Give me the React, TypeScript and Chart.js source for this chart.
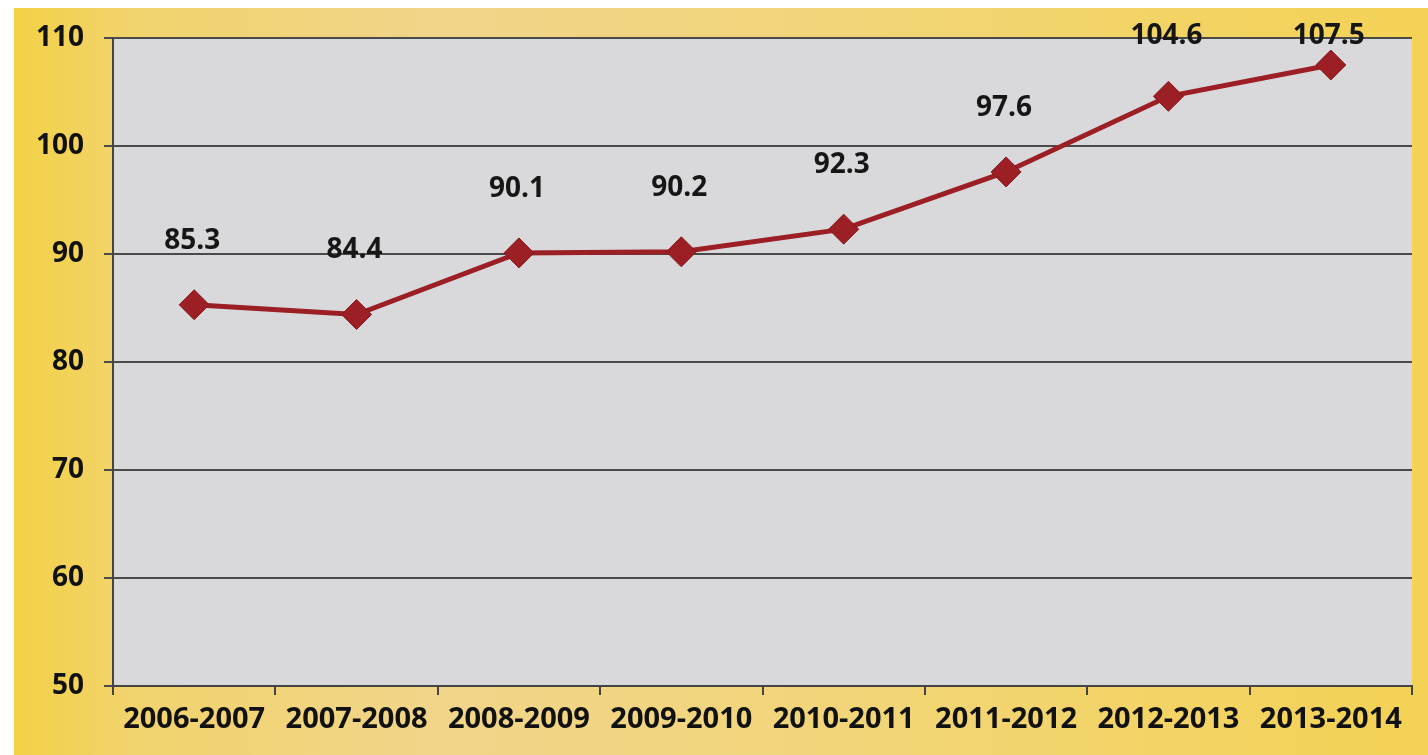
import React, { useEffect, useRef } from "react";
import { Chart, registerables } from "chart.js";

Chart.register(...registerables);

const categories = [
  "2006-2007",
  "2007-2008",
  "2008-2009",
  "2009-2010",
  "2010-2011",
  "2011-2012",
  "2012-2013",
  "2013-2014",
];
const values = [85.3, 84.4, 90.1, 90.2, 92.3, 97.6, 104.6, 107.5];
const yMin = 50;
const yMax = 110;
const yStep = 10;

const FONT = "'Open Sans', 'DejaVu Sans', sans-serif";

const backgroundPlugin = {
  id: "bgPlugin",
  beforeDraw(chart: any) {
    const { ctx, width, height, chartArea } = chart;
    ctx.save();
    ctx.fillStyle = "#ffffff";
    ctx.fillRect(0, 0, width, height);
    const g = ctx.createLinearGradient(14, 0, width, 0);
    g.addColorStop(0, "#f3d245");
    g.addColorStop(0.08, "#f2d36c");
    g.addColorStop(0.3, "#f1d58a");
    g.addColorStop(0.6, "#f2d578");
    g.addColorStop(1, "#f4d255");
    ctx.fillStyle = g;
    ctx.fillRect(14, 8, width - 14, height - 8);
    ctx.fillStyle = "#d9d9dc";
    ctx.fillRect(
      chartArea.left,
      chartArea.top,
      chartArea.right - chartArea.left,
      chartArea.bottom - chartArea.top
    );
    ctx.restore();
  },
};

const labelPlugin = {
  id: "valueLabels",
  afterDatasetsDraw(chart: any) {
    const { ctx } = chart;
    const meta = chart.getDatasetMeta(0);
    const data = chart.data.datasets[0].data as number[];
    ctx.save();
    ctx.font = `bold 28px ${FONT}`;
    ctx.fillStyle = "#161616";
    ctx.textAlign = "center";
    ctx.textBaseline = "middle";
    meta.data.forEach((pt: any, i: number) => {
      const y = Math.max(pt.y - 64, 36);
      ctx.fillText(data[i].toFixed(1), pt.x - 2, y);
    });
    ctx.restore();
  },
};

export default function App() {
  const ref = useRef<HTMLCanvasElement | null>(null);

  useEffect(() => {
    if (!ref.current) return;
    const chart = new Chart(ref.current, {
      type: "line",
      data: {
        labels: categories,
        datasets: [
          {
            data: values,
            borderColor: "#9b1f24",
            backgroundColor: "#9b1f24",
            borderWidth: 5,
            pointStyle: "rectRot",
            pointRadius: 15,
            pointBorderWidth: 1,
            pointBackgroundColor: "#9b1f24",
            pointBorderColor: "#86191e",
            tension: 0,
          },
        ],
      },
      options: {
        responsive: false,
        animation: false,
        layout: { padding: { left: 0, right: 14, top: 38, bottom: 0 } },
        plugins: {
          legend: { display: false },
          tooltip: { enabled: false },
        },
        scales: {
          x: {
            type: "category",
            offset: true,
            grid: {
              offset: true,
              drawOnChartArea: false,
              drawTicks: true,
              tickLength: 9,
              color: "#444444",
              lineWidth: 2,
            },
            border: { display: true, color: "#444444", width: 2 },
            ticks: {
              color: "#111111",
              font: { family: FONT, size: 29, weight: "bold" },
              padding: 7,
              maxRotation: 0,
              autoSkip: false,
            },
            afterFit(scale: any) {
              scale.height = 69;
            },
          },
          y: {
            min: yMin,
            max: yMax,
            ticks: {
              stepSize: yStep,
              color: "#111111",
              font: { family: FONT, size: 28, weight: "bold" },
              padding: 20,
            },
            grid: {
              color: "#4a4a4a",
              lineWidth: 2,
              tickLength: 9,
            },
            border: { display: true, color: "#444444", width: 2 },
            afterFit(scale: any) {
              scale.width = 113;
            },
          },
        },
      },
      plugins: [backgroundPlugin, labelPlugin],
    });
    return () => chart.destroy();
  }, []);

  return (
    <div style={{ position: "fixed", left: 0, top: 0, width: 1428, height: 755 }}>
      <canvas ref={ref} width={1428} height={755} style={{ display: "block" }} />
    </div>
  );
}
